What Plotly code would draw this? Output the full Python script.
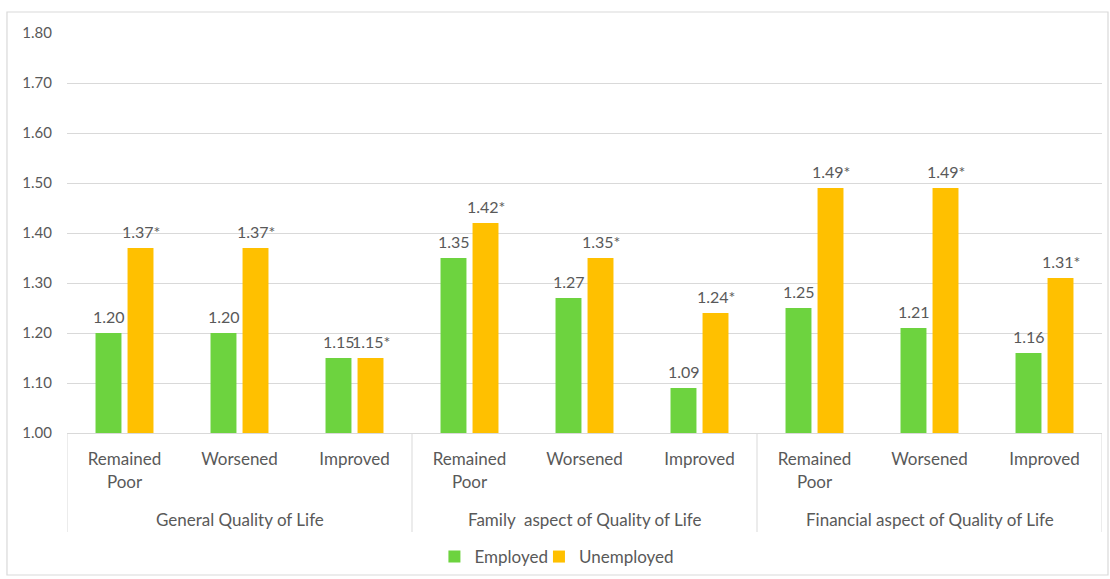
import plotly.graph_objects as go

groups = ["General Quality of Life", "Family  aspect of Quality of Life", "Financial aspect of Quality of Life"]
inner = ["Remained<br>Poor", "Worsened", "Improved"]
employed = [1.20, 1.20, 1.15, 1.35, 1.27, 1.09, 1.25, 1.21, 1.16]
unemployed = [1.37, 1.37, 1.15, 1.42, 1.35, 1.24, 1.49, 1.49, 1.31]
yticks = [1.00, 1.10, 1.20, 1.30, 1.40, 1.50, 1.60, 1.70, 1.80]

GREEN = "#6DD33F"
ORANGE = "#FFC000"
TXT = "#595959"
GRID = "#D9D9D9"
FONT = "Lato"

n = len(employed)
xs = list(range(n))
ticktext = [inner[i % len(inner)] for i in xs]

fig = go.Figure()
fig.add_trace(go.Bar(x=xs, y=employed, name="Employed", legend="legend",
                     marker=dict(color=GREEN, line=dict(width=0))))
fig.add_trace(go.Bar(x=xs, y=unemployed, name="Unemployed", legend="legend2",
                     marker=dict(color=ORANGE, line=dict(width=0))))

annotations = []
off = 16
for i in xs:
    annotations.append(dict(x=i, y=employed[i], xref="x", yref="y", text=f"{employed[i]:.2f}",
                            showarrow=False, xshift=-off, yshift=17, yanchor="middle",
                            font=dict(family=FONT, size=16, color=TXT)))
    annotations.append(dict(x=i, y=unemployed[i], xref="x", yref="y", text=f"{unemployed[i]:.2f}*",
                            showarrow=False, xshift=off, yshift=17, yanchor="middle",
                            font=dict(family=FONT, size=16, color=TXT)))

shapes = []
k = len(inner)
for g, name in enumerate(groups):
    annotations.append(dict(x=g * k + (k - 1) / 2, y=-0.215, xref="x", yref="paper", text=name,
                            showarrow=False, yanchor="middle",
                            font=dict(family=FONT, size=17, color=TXT)))
for b in range(len(groups) + 1):
    shapes.append(dict(type="line", xref="x", yref="paper", x0=b * k - 0.5, x1=b * k - 0.5,
                       y0=0, y1=-0.2475, line=dict(color=GRID, width=1)))
# outer chart border
shapes.append(dict(type="rect", xref="paper", yref="paper", x0=-0.058, x1=1.0058, y0=-0.355, y1=1.0525,
                   line=dict(color=GRID, width=1.2), fillcolor="rgba(0,0,0,0)", layer="below"))

legend_common = dict(orientation="h", yanchor="middle", y=-0.31, xanchor="left",
                     font=dict(family=FONT, size=17, color=TXT), bgcolor="rgba(0,0,0,0)")
fig.update_layout(
    width=1110, height=579,
    margin=dict(l=67, r=8, t=33, b=146, autoexpand=False),
    paper_bgcolor="white", plot_bgcolor="white",
    barmode="group", bargap=0.443, bargroupgap=0.19,
    font=dict(family=FONT, color=TXT, size=17),
    showlegend=True,
    legend=dict(x=0.355, **legend_common),
    legend2=dict(x=0.456, **legend_common),
    annotations=annotations,
    shapes=shapes,
)
fig.update_xaxes(range=[-0.5, n - 0.5], tickmode="array", tickvals=xs, ticktext=ticktext,
                 showgrid=False, zeroline=False, showline=True, linecolor=GRID, linewidth=1,
                 ticks="", ticklabelstandoff=11, tickfont=dict(family=FONT, size=17, color=TXT))
fig.update_yaxes(range=[1.0, 1.8], tickmode="array", tickvals=yticks, ticktext=[f"{v:.2f}" for v in yticks],
                 showgrid=True, gridcolor=GRID, gridwidth=1, zeroline=False, showline=False,
                 ticks="", ticklabelstandoff=14, tickfont=dict(family=FONT, size=15, color=TXT))

fig.write_html("out.html")
